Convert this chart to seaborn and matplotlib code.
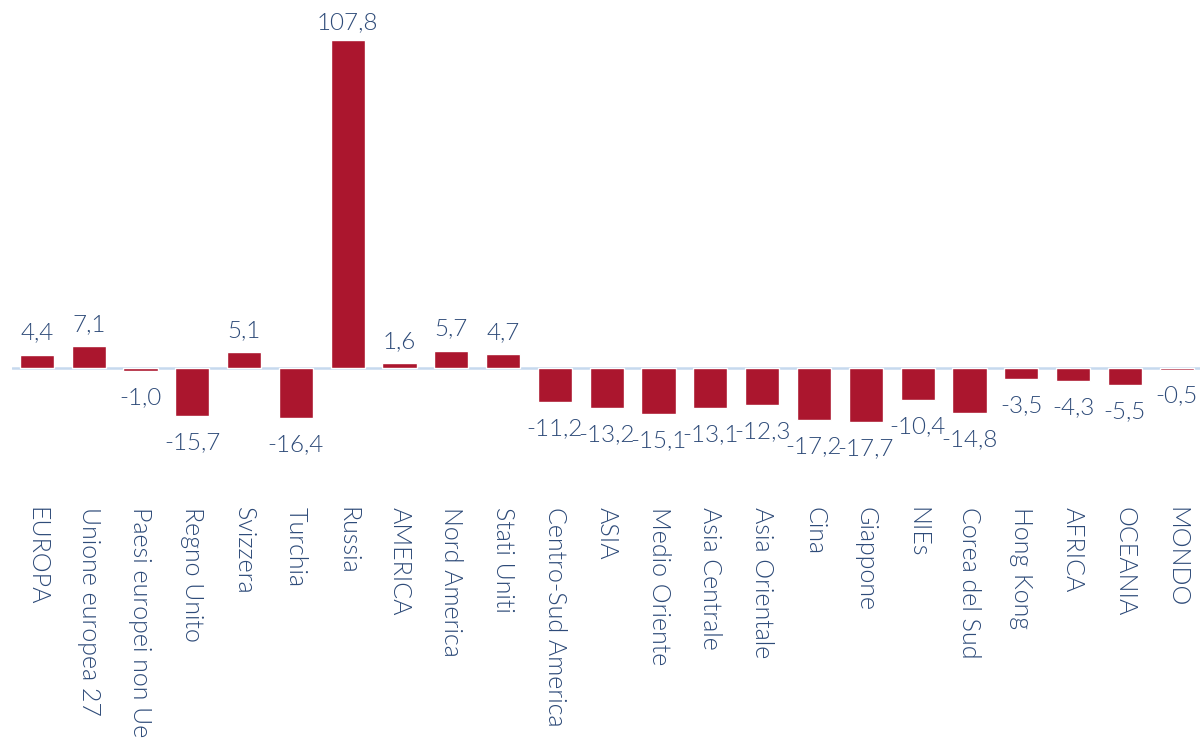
import seaborn as sns
import matplotlib.pyplot as plt
import pandas as pd

# data
categories = ["EUROPA", "Unione europea 27", "Paesi europei non Ue", "Regno Unito",
              "Svizzera", "Turchia", "Russia", "AMERICA", "Nord America", "Stati Uniti",
              "Centro-Sud America", "ASIA", "Medio Oriente", "Asia Centrale",
              "Asia Orientale", "Cina", "Giappone", "NIEs", "Corea del Sud",
              "Hong Kong", "AFRICA", "OCEANIA", "MONDO"]
values = [4.4, 7.1, -1.0, -15.7, 5.1, -16.4, 107.8, 1.6, 5.7, 4.7, -11.2, -13.2,
          -15.1, -13.1, -12.3, -17.2, -17.7, -10.4, -14.8, -3.5, -4.3, -5.5, -0.5]

df = pd.DataFrame({"area": categories, "var": values})

sns.set_style("white")
plt.rcParams["font.family"] = ["Lato", "DejaVu Sans"]

text_col = "#2d4a78"
bar_col = "#ab162e"
fw = 300

fig = plt.figure(figsize=(12.03, 7.54), dpi=100)
ax = fig.add_axes([12 / 1203, 0.4393, 1188 / 1203, 0.5246])

sns.barplot(data=df, x="area", y="var", color=bar_col, width=0.66,
            saturation=1, ax=ax)

ax.set_xlim(-0.48, 22.45)
ax.set_ylim(-18, 112)
ax.axhline(0, color="#c6d9ee", lw=1.8, zorder=0)

for i, v in enumerate(values):
    lab = f"{v:.1f}".replace(".", ",")
    if v >= 0:
        off = 8 if v < 100 else 5
        ax.annotate(lab, (i, v), xytext=(0, off), textcoords="offset points",
                    ha="center", va="bottom", fontsize=17.5, color=text_col,
                    fontweight=fw)
    else:
        ax.annotate(lab, (i, v), xytext=(0, -11.5), textcoords="offset points",
                    ha="center", va="top", fontsize=17.5, color=text_col,
                    fontweight=fw)

ax.set_xticks(range(len(categories)))
ax.set_xticklabels(categories, rotation=270, ha="center", va="top",
                   fontsize=18, color=text_col, fontweight=fw)
ax.tick_params(axis="x", length=0, pad=61)
ax.set_yticks([])
ax.set_xlabel("")
ax.set_ylabel("")
sns.despine(left=True, bottom=True)

fig.savefig("out.png", dpi=100)
